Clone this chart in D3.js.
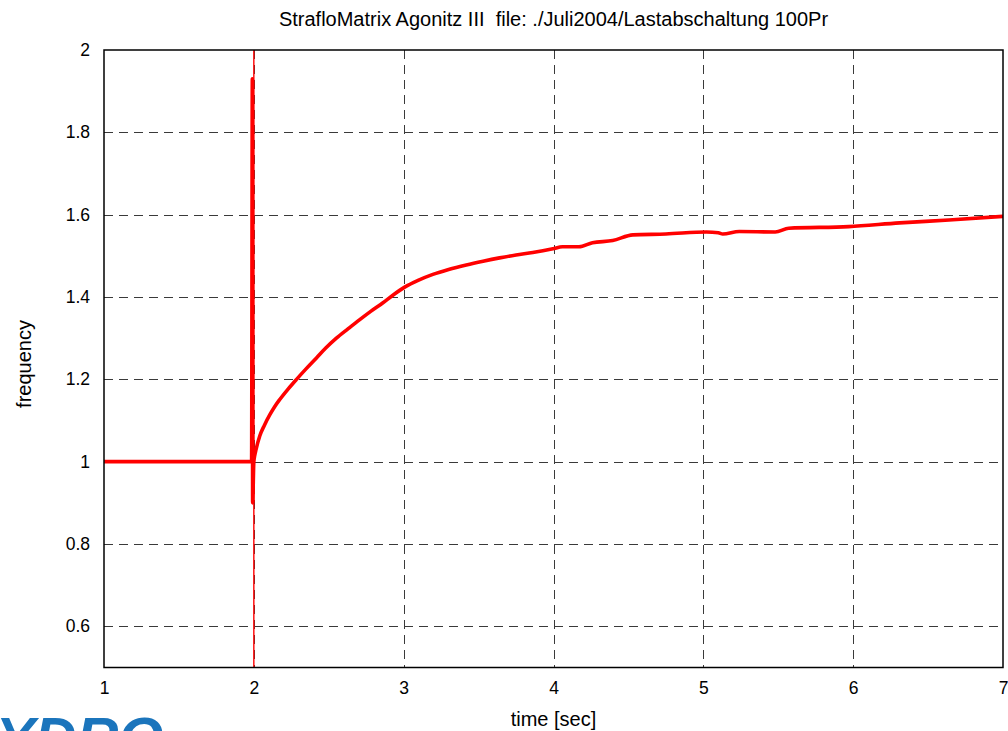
<!DOCTYPE html>
<html>
<head>
<meta charset="utf-8">
<script src="https://cdn.jsdelivr.net/npm/d3@7"></script>
<style>
  html, body { margin: 0; padding: 0; background: #fff; }
  svg { display: block; }
  text { font-family: "Liberation Sans", Arial, sans-serif; fill: #000; }
</style>
</head>
<body>
<svg id="chart" width="1008" height="731"></svg>
<script>
// Measured turbine speed after load rejection (per-unit frequency vs. time)
const timeSec = [1.00, 1.30, 1.60, 1.985, 1.99, 1.992, 2.000, 2.006, 2.015, 2.04, 2.07, 2.107, 2.14, 2.173, 2.23,
  2.285, 2.35, 2.418, 2.48, 2.551, 2.63, 2.707, 2.78, 2.862, 2.93, 3.007, 3.10, 3.195, 3.30, 3.418, 3.53, 3.64,
  3.75, 3.862, 3.996, 4.06, 4.17, 4.26, 4.395, 4.53, 4.75, 5.02, 5.10, 5.13, 5.24, 5.48, 5.57, 5.97, 6.31, 6.64, 7.00];
const freq = [1.000, 1.000, 1.000, 1.000, 1.930, 0.900, 1.000, 1.015, 1.030, 1.063, 1.088, 1.114, 1.134, 1.151, 1.177,
  1.200, 1.226, 1.252, 1.276, 1.300, 1.323, 1.345, 1.365, 1.386, 1.405, 1.424, 1.441, 1.455, 1.467, 1.478, 1.487, 1.495,
  1.502, 1.508, 1.517, 1.522, 1.522, 1.532, 1.537, 1.551, 1.553, 1.558, 1.556, 1.553, 1.559, 1.558, 1.567, 1.571, 1.580, 1.587, 1.596];

// Single-sample switching transient that runs off both ends of the axis
const spikeTime = [2.0];
const spikeRange = [0.3, 2.2];

const xTicks = [1, 2, 3, 4, 5, 6, 7];
const yTicks = [0.6, 0.8, 1.0, 1.2, 1.4, 1.6, 1.8, 2.0];
const yTickLabels = ["0.6", "0.8", "1", "1.2", "1.4", "1.6", "1.8", "2"];

const titleText = "StrafloMatrix Agonitz III  file: ./Juli2004/Lastabschaltung 100Pr";
const xLabel = "time [sec]";
const yLabel = "frequency";

const svg = d3.select("#chart");
const plot = { left: 104, right: 1003, top: 50, bottom: 667.5 };

const x = d3.scaleLinear().domain([1, 7]).range([plot.left, plot.right]);
const y = d3.scaleLinear().domain([0.5, 2]).range([plot.bottom, plot.top]);

svg.append("defs").append("clipPath").attr("id", "plotClip")
  .append("rect")
  .attr("x", plot.left).attr("y", plot.top)
  .attr("width", plot.right - plot.left).attr("height", plot.bottom - plot.top);

// dashed grid
const grid = svg.append("g").attr("stroke", "#3a3a3a").attr("stroke-width", 1)
  .attr("stroke-dasharray", "9,6").attr("fill", "none");
grid.selectAll(".vg").data(xTicks.slice(1, -1)).join("line")
  .attr("x1", d => Math.round(x(d)) + 0.5).attr("x2", d => Math.round(x(d)) + 0.5)
  .attr("y1", plot.top).attr("y2", plot.bottom);
grid.selectAll(".hg").data(yTicks.filter(d => d < 2)).join("line")
  .attr("x1", plot.left).attr("x2", plot.right)
  .attr("y1", d => Math.round(y(d)) + 0.5).attr("y2", d => Math.round(y(d)) + 0.5);

// axes (labels only; the frame is drawn separately)
const xAxis = d3.axisBottom(x).tickValues(xTicks).tickFormat(d3.format("d")).tickSize(0).tickPadding(14);
const yAxis = d3.axisLeft(y).tickValues(yTicks).tickFormat((d, i) => yTickLabels[i]).tickSize(0).tickPadding(14);

const gx = svg.append("g").attr("transform", `translate(0,${plot.bottom})`).call(xAxis);
const gy = svg.append("g").attr("transform", `translate(${plot.left},0)`).call(yAxis);
[gx, gy].forEach(g => {
  g.select(".domain").remove();
  g.selectAll("text").attr("font-size", 17.5).attr("font-family", "Liberation Sans, Arial, sans-serif").attr("fill", "#000");
});

// data trace
const traceG = svg.append("g").attr("clip-path", "url(#plotClip)");
traceG.selectAll(".spike").data(spikeTime).join("line")
  .attr("x1", d => x(d)).attr("x2", d => x(d))
  .attr("y1", y(spikeRange[0])).attr("y2", y(spikeRange[1]))
  .attr("stroke", "#ff0000").attr("stroke-width", 1.4);

const line = d3.line().x((d, i) => x(timeSec[i])).y(d => y(d)).curve(d3.curveMonotoneX);
traceG.append("path")
  .attr("d", line(freq))
  .attr("fill", "none")
  .attr("stroke", "#ff0000")
  .attr("stroke-width", 3.6)
  .attr("stroke-linejoin", "round");

// plot frame
svg.append("rect")
  .attr("x", plot.left).attr("y", plot.top)
  .attr("width", plot.right - plot.left).attr("height", plot.bottom - plot.top)
  .attr("fill", "none").attr("stroke", "#000").attr("stroke-width", 1.5);

// titles
svg.append("text").attr("x", (plot.left + plot.right) / 2).attr("y", 26)
  .attr("text-anchor", "middle").attr("font-size", 20).style("white-space", "pre").text(titleText);
svg.append("text").attr("x", (plot.left + plot.right) / 2).attr("y", 726)
  .attr("text-anchor", "middle").attr("font-size", 20).text(xLabel);
svg.append("text").attr("transform", "translate(31,364) rotate(-90)")
  .attr("text-anchor", "middle").attr("font-size", 20).text(yLabel);

// company logo, partly outside the page
svg.append("text").attr("x", -46).attr("y", 758)
  .attr("font-size", 58).attr("font-weight", "bold").attr("font-style", "italic")
  .style("fill", "#1b75bc").text("HYDRO");
</script>
</body>
</html>
